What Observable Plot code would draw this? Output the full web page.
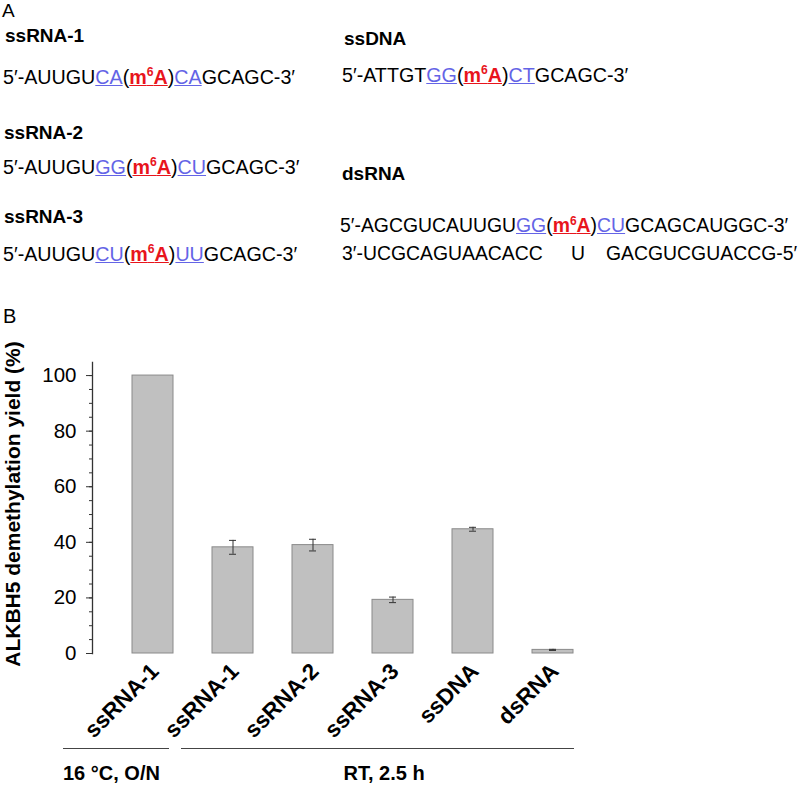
<!DOCTYPE html>
<html><head><meta charset="utf-8">
<script src="https://cdn.jsdelivr.net/npm/d3@7"></script>
<script src="https://cdn.jsdelivr.net/npm/@observablehq/plot@0.6"></script>
<style>
body{margin:0;background:#fff;}
#wrap{position:relative;width:800px;height:786px;overflow:hidden;font-family:Arial,"Liberation Sans",sans-serif;color:#000;background:#fff;}
.t{position:absolute;white-space:pre;line-height:1;}
.b{font-weight:bold;}
.s19{font-size:19px;}
.s20{font-size:19.7px;}
.g20{font-size:20px;}
.ds{font-size:19.4px;}
.bl{color:#6464e6;text-decoration:underline;}
.rd{color:#e8141c;font-weight:bold;text-decoration:underline;}
.sup{position:relative;top:-0.62em;font-size:0.62em;}
.hl{position:absolute;height:0;border-top:1.5px solid #444;}
#chart{position:absolute;left:0;top:290px;}
</style></head>
<body><div id="wrap"><div id="chart"></div></div>
<script>
// ---------- Panel A text ----------
const seqNames = ["ssRNA-1", "ssRNA-2", "ssRNA-3", "ssDNA", "dsRNA"];
const seqPre   = ["5′-AUUGU", "5′-AUUGU", "5′-AUUGU", "5′-ATTGT", "5′-AGCGUCAUUGU"];
const seqLeft  = ["CA", "GG", "CU", "GG", "GG"];
const seqRight = ["CA", "CU", "UU", "CT", "CU"];
const seqPost  = ["GCAGC-3′", "GCAGC-3′", "GCAGC-3′", "GCAGC-3′", "GCAGCAUGGC-3′"];
const dsBottom = ["3′-UCGCAGUAACACC", "U", "GACGUCGUACCG-5′"];
const panelLabels = ["A", "B"];

// ---------- Panel B data ----------
const categories = ["ssRNA-1", "ssRNA-1", "ssRNA-2", "ssRNA-3", "ssDNA", "dsRNA"];
const yields = [100, 38.2, 39.0, 19.3, 44.7, 1.3];
const errors = [0, 2.5, 2.1, 1.0, 0.7, 0.2];
const yTicks = [0, 20, 40, 60, 80, 100];
const yMinorTicks = [0, 5, 10, 15, 20, 25, 30, 35, 40, 45, 50, 55, 60, 65, 70, 75, 80, 85, 90, 95, 100];
const groupLabels = ["16 °C, O/N", "RT, 2.5 h"];
const yTitle = "ALKBH5 demethylation yield (%)";

const wrap = document.getElementById("wrap");
function addDiv(cls, left, top, html) {
  const d = document.createElement("div");
  d.className = "t " + cls;
  d.style.left = left + "px";
  d.style.top = top + "px";
  d.innerHTML = html;
  wrap.appendChild(d);
  return d;
}
function seqHTML(i) {
  return seqPre[i] + '<span class="bl">' + seqLeft[i] + '</span>(' +
    '<span class="rd">m<span class="sup">6</span>A</span>)' +
    '<span class="bl">' + seqRight[i] + '</span>' + seqPost[i];
}
// layout: [nameLeft, nameTop, seqLeft, seqTop, seqClass]
const layoutA = [[5, 26, 3, 68, "s20"], [4, 123, 3, 158, "s20"], [4, 207, 3, 245, "s20"], [344, 29, 342, 66, "s20"], [342, 164, 340, 216, "ds"]];
addDiv("s19", 2, 1, panelLabels[0]);
layoutA.forEach((p, i) => {
  addDiv("s19 b", p[0], p[1], seqNames[i]);
  addDiv(p[4], p[2], p[3], seqHTML(i));
});
addDiv("ds", 342, 244, dsBottom[0]);
addDiv("ds", 571, 244, dsBottom[1]);
addDiv("ds", 606, 244, dsBottom[2]);
addDiv("g20", 3, 306, panelLabels[1]);

// ---------- Chart ----------
const data = categories.map((c, i) => ({i, c, v: yields[i], e: errors[i]}));
const errData = data.filter(d => d.e > 0);

const chart = Plot.plot({
  width: 800,
  height: 496,
  marginLeft: 92,
  marginRight: 187,
  marginTop: 72,
  marginBottom: 133,
  style: {fontFamily: 'Arial, "Liberation Sans", sans-serif', fontSize: "20px", color: "#000", background: "transparent", overflow: "visible"},
  x: {type: "band", domain: data.map(d => d.i), paddingInner: 0.4875, paddingOuter: 0.5},
  y: {domain: [0, 104.7]},
  marks: [
    Plot.barY(data, {x: "i", y: "v", fill: "#c0c0c0", stroke: "#8a8a8a", strokeWidth: 1}),
    Plot.ruleX(errData, {x: "i", y1: d => d.v - d.e, y2: d => d.v + d.e, stroke: "#333", strokeWidth: 1}),
    Plot.tickY(errData, {x: "i", y: d => d.v + d.e, insetLeft: 17, insetRight: 17, stroke: "#333", strokeWidth: 1}),
    Plot.tickY(errData, {x: "i", y: d => d.v - d.e, insetLeft: 17, insetRight: 17, stroke: "#333", strokeWidth: 1}),
    Plot.frame({anchor: "left", stroke: "#333", strokeWidth: 1.3}),
    Plot.axisY(yMinorTicks, {tickSize: 3, tickFormat: () => "", label: null, stroke: "#333"}),
    Plot.axisY(yTicks, {tickSize: 6, tickPadding: 10, fontSize: 20.5, label: null, stroke: "#333"}),
    Plot.axisX({tickSize: 0, tickPadding: 14, tickRotate: -45, textAnchor: "end", lineAnchor: "middle", dx: 2,
      fontSize: 22.5, fontWeight: "bold", label: null, tickFormat: i => categories[i]}),
    Plot.text([yTitle], {frameAnchor: "left", textAnchor: "middle", rotate: -90, dx: -79, dy: -4, fontSize: 21, fontWeight: "bold"})
  ]
});
document.getElementById("chart").appendChild(chart);

// group brackets and condition labels
const l1 = document.createElement("div"); l1.className = "hl";
l1.style.left = "63px"; l1.style.width = "106px"; l1.style.top = "748px"; wrap.appendChild(l1);
const l2 = document.createElement("div"); l2.className = "hl";
l2.style.left = "181px"; l2.style.width = "393px"; l2.style.top = "748px"; wrap.appendChild(l2);
addDiv("g20 b", 63, 763, groupLabels[0]);
const g2 = addDiv("g20 b", 0, 763, groupLabels[1]);
g2.style.left = (384 - g2.offsetWidth / 2) + "px";
</script>
</body></html>
